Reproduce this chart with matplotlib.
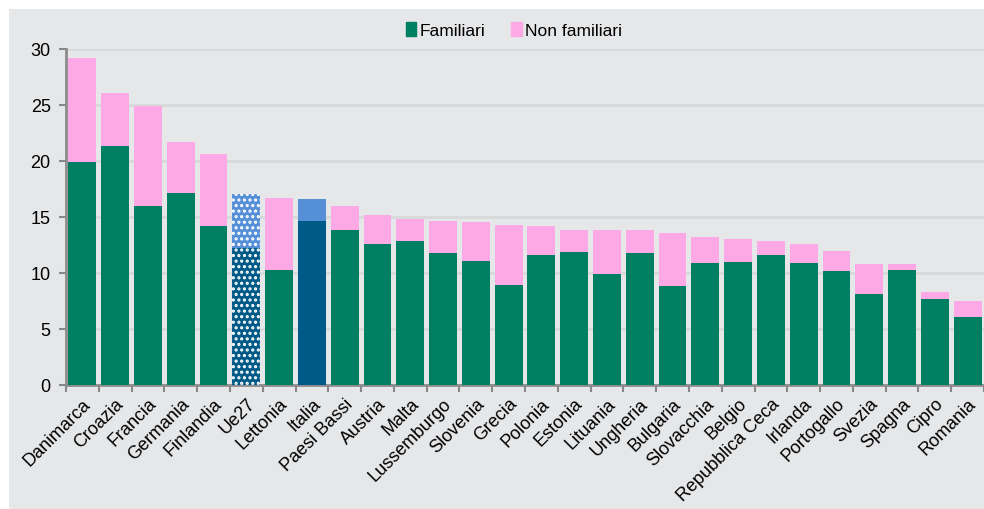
import matplotlib
matplotlib.use("Agg")
import matplotlib.pyplot as plt
from matplotlib.patches import Rectangle
import numpy as np

plt.rcParams['font.family'] = ['Liberation Sans', 'DejaVu Sans']
plt.rcParams['hatch.linewidth'] = 1.5

paesi = ["Danimarca", "Croazia", "Francia", "Germania", "Finlandia", "Ue27",
         "Lettonia", "Italia", "Paesi Bassi", "Austria", "Malta", "Lussemburgo",
         "Slovenia", "Grecia", "Polonia", "Estonia", "Lituania", "Ungheria",
         "Bulgaria", "Slovacchia", "Belgio", "Repubblica Ceca", "Irlanda",
         "Portogallo", "Svezia", "Spagna", "Cipro", "Romania"]
familiari = [19.9, 21.3, 16.0, 17.1, 14.2, 12.2, 10.3, 14.6, 13.8, 12.6, 12.9, 11.8,
             11.1, 8.95, 11.6, 11.9, 9.9, 11.8, 8.8, 10.9, 11.0, 11.6, 10.9,
             10.2, 8.1, 10.3, 7.7, 6.1]
totale = [29.2, 26.1, 24.9, 21.7, 20.6, 17.05, 16.7, 16.6, 16.0, 15.2, 14.8, 14.6,
          14.55, 14.3, 14.2, 13.8, 13.8, 13.8, 13.6, 13.2, 13.0, 12.9, 12.6,
          12.0, 10.8, 10.8, 8.3, 7.5]
non_familiari = [t - f for t, f in zip(totale, familiari)]

verde = "#007F62"
rosa = "#FDA9E6"
blu_scuro = "#005A87"
blu_chiaro = "#558FD8"
sfondo = "#E6E7E9"

fig = plt.figure(figsize=(9.84, 5.10), dpi=100, facecolor="white")
fig.patches.append(Rectangle((9 / 984, 0), 1, 500 / 510, transform=fig.transFigure,
                             facecolor=sfondo, edgecolor="none", zorder=-10))
ax = fig.add_axes([66 / 984, 1 - 386 / 510, 1 - 66 / 984, (386 - 50) / 510])
ax.set_facecolor(sfondo)

x = np.arange(len(paesi))
col_f = [verde] * len(paesi)
col_n = [rosa] * len(paesi)
i_it = paesi.index("Italia")
i_ue = paesi.index("Ue27")
col_f[i_it] = blu_scuro
col_n[i_it] = blu_chiaro
col_f[i_ue] = blu_scuro
col_n[i_ue] = blu_chiaro

w = 0.85
b1 = ax.bar(x, familiari, width=w, color=col_f, linewidth=0, zorder=3, label="Familiari")
b2 = ax.bar(x, non_familiari, bottom=familiari, width=w, color=col_n, linewidth=0,
            zorder=3, label="Non familiari")
# Ue27 puntinato
for b in (b1[i_ue], b2[i_ue]):
    b.set_hatch("...")
    b.set_edgecolor("white")
    b.set_linewidth(0)

ax.set_xlim(-0.5, len(paesi) - 0.5)
ax.set_ylim(0, 30)
ax.set_yticks(np.arange(0, 31, 5))
ax.grid(axis="y", color="#D8D9DB", linewidth=2, zorder=0)
ax.set_axisbelow(True)

ax.set_xticks(x)
ax.set_xticklabels(paesi, rotation=45, ha="right", va="top", rotation_mode="anchor",
                   fontsize=13)
ax.tick_params(axis="x", length=0, pad=7)
ax.set_xticks(np.arange(-0.5, len(paesi), 1), minor=True)
ax.tick_params(axis="x", which="minor", length=5, color="#888888", width=1.5)
ax.tick_params(axis="y", length=5, color="#888888", width=1.5, labelsize=13, pad=6)

for s in ("top", "right"):
    ax.spines[s].set_visible(False)
for s in ("left", "bottom"):
    ax.spines[s].set_color("#8C8C8C")
    ax.spines[s].set_linewidth(2)

h1 = Rectangle((0, 0), 1, 1, color=verde)
h2 = Rectangle((0, 0), 1, 1, color=rosa)
fig.legend([h1, h2], ["Familiari", "Non familiari"], loc="center",
           bbox_to_anchor=(514 / 984, 1 - 31 / 510), ncol=2, frameon=False,
           fontsize=12.5, handlelength=0.6, handleheight=0.9, handletextpad=0.2,
           columnspacing=1.5)

fig.savefig("out.png", dpi=100, facecolor="white")
